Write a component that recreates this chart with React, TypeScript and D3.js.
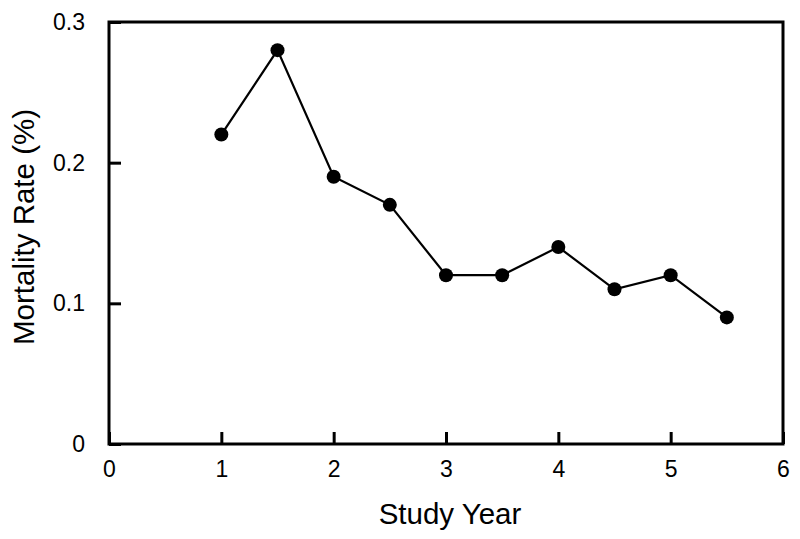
import { useEffect, useRef } from "react";
import * as d3 from "d3";

// study year vs mortality rate
const studyYears = [1, 1.5, 2, 2.5, 3, 3.5, 4, 4.5, 5, 5.5];
const mortality = [0.22, 0.28, 0.19, 0.17, 0.12, 0.12, 0.14, 0.11, 0.12, 0.09];
const xTicks = [0, 1, 2, 3, 4, 5, 6];
const yTicks = [0, 0.1, 0.2, 0.3];

const App = () => {
  const svgRef = useRef<SVGSVGElement>(null);

  useEffect(() => {
    const W = 800;
    const H = 539;
    const margin = { top: 22, right: 17, bottom: 95, left: 109 };
    const width = W - margin.left - margin.right;
    const height = H - margin.top - margin.bottom;
    const font = "'Liberation Sans', Arial, sans-serif";

    const root = d3.select(svgRef.current);
    root.selectAll("*").remove();
    root.attr("width", W).attr("height", H);

    const svg = root
      .append("g")
      .attr("transform", `translate(${margin.left},${margin.top})`);

    const x = d3.scaleLinear().domain([0, 6]).range([0, width]);
    const y = d3.scaleLinear().domain([0, 0.3]).range([height, 0]);

    const data = studyYears.map((yr, i) => ({ yr, v: mortality[i] }));

    // frame
    svg
      .append("rect")
      .attr("x", 0)
      .attr("y", 0)
      .attr("width", width)
      .attr("height", height)
      .attr("fill", "none")
      .attr("stroke", "#000")
      .attr("stroke-width", 3);

    // x axis, ticks pointing inward
    const xAxis = svg
      .append("g")
      .attr("transform", `translate(0,${height})`)
      .call(
        d3
          .axisBottom(x)
          .tickValues(xTicks)
          .tickSize(-12)
          .tickPadding(17)
          .tickFormat(d3.format("d"))
      );
    xAxis.select(".domain").remove();
    xAxis.selectAll("line").attr("stroke-width", 3);
    xAxis
      .selectAll("text")
      .attr("font-family", font)
      .attr("font-size", 23)
      .attr("fill", "#000");

    // y axis
    const yAxis = svg
      .append("g")
      .call(
        d3
          .axisLeft(y)
          .tickValues(yTicks)
          .tickSize(-12)
          .tickPadding(24)
          .tickFormat((d) => (d === 0 ? "0" : d3.format(".1f")(d as number)))
      );
    yAxis.select(".domain").remove();
    yAxis.selectAll("line").attr("stroke-width", 3);
    yAxis
      .selectAll("text")
      .attr("font-family", font)
      .attr("font-size", 23)
      .attr("fill", "#000");

    const line = d3
      .line<{ yr: number; v: number }>()
      .x((d) => x(d.yr))
      .y((d) => y(d.v));

    svg
      .append("path")
      .datum(data)
      .attr("d", line)
      .attr("fill", "none")
      .attr("stroke", "#000")
      .attr("stroke-width", 2.2);

    svg
      .selectAll(".pt")
      .data(data)
      .enter()
      .append("circle")
      .attr("class", "pt")
      .attr("cx", (d) => x(d.yr))
      .attr("cy", (d) => y(d.v))
      .attr("r", 7)
      .attr("fill", "#000");

    // axis titles
    svg
      .append("text")
      .attr("x", width / 2 + 4)
      .attr("y", height + 80)
      .attr("text-anchor", "middle")
      .attr("font-family", font)
      .attr("font-size", 29.5)
      .text("Study Year");

    svg
      .append("text")
      .attr("transform", `translate(${-75},${height / 2 - 6}) rotate(-90)`)
      .attr("text-anchor", "middle")
      .attr("font-family", font)
      .attr("font-size", 29.5)
      .text("Mortality Rate (%)");
  }, []);

  return (
    <div style={{ position: "absolute", left: 0, top: 0 }}>
      <svg ref={svgRef}></svg>
    </div>
  );
};

export default App;
